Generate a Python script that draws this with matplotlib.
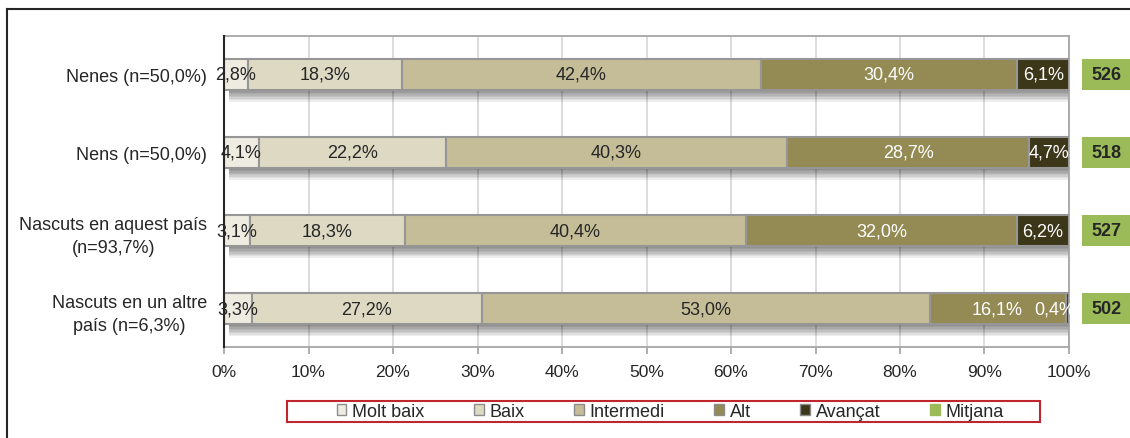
import matplotlib
matplotlib.use("Agg")
import matplotlib.pyplot as plt
from matplotlib.patches import Patch, Rectangle
from matplotlib.lines import Line2D
import numpy as np

plt.rcParams['font.family'] = ['Liberation Sans', 'DejaVu Sans']

categories = ["Nenes (n=50,0%)", "Nens (n=50,0%)",
              "Nascuts en aquest país\n(n=93,7%)",
              "Nascuts en un altre\npaís (n=6,3%)"]
series_names = ["Molt baix", "Baix", "Intermedi", "Alt", "Avançat"]
molt_baix = [2.8, 4.1, 3.1, 3.3]
baix = [18.3, 22.2, 18.3, 27.2]
intermedi = [42.4, 40.3, 40.4, 53.0]
alt = [30.4, 28.7, 32.0, 16.1]
avancat = [6.1, 4.7, 6.2, 0.4]
mitjana = [526, 518, 527, 502]
xticks = [0, 10, 20, 30, 40, 50, 60, 70, 80, 90, 100]

colors = ["#EEECE1", "#DDD9C3", "#C4BD97", "#948A54", "#3D3719"]
text_colors = ["#262626", "#262626", "#262626", "white", "white"]
green = "#9BBB59"
edge = "#969696"

fig = plt.figure(figsize=(11.3, 4.39), dpi=100)
ax = fig.add_axes([224/1130, 1-348/439, (1069-224)/1130, (348-37)/439])

y = np.arange(len(categories))
h = 0.40
data = [molt_baix, baix, intermedi, alt, avancat]

# soft drop shadow
for k, d in enumerate(np.linspace(0.02, 0.15, 8)):
    ax.barh(y + d, 100, left=0.6, height=h, color="black", alpha=0.065,
            linewidth=0, zorder=1)

left = np.zeros(len(categories))
for i, (vals, name) in enumerate(zip(data, series_names)):
    vals = np.array(vals)
    ax.barh(y, vals, left=left, height=h, color=colors[i], edgecolor=edge,
            linewidth=1.5, zorder=3, label=name)
    for j, v in enumerate(vals):
        dx = -9 if v < 1 else 0
        ax.annotate(f"{v:.1f}%".replace(".", ","), (left[j] + v/2, y[j]),
                    xytext=(dx, 0), textcoords="offset points",
                    ha="center", va="center", fontsize=13,
                    color=text_colors[i], zorder=5, annotation_clip=False)
    left += vals

# Mitjana boxes
ax.barh(y, 5.8, left=101.5, height=h, color=green, linewidth=0,
        clip_on=False, zorder=3)
for j, m in enumerate(mitjana):
    ax.text(101.5 + 2.9, y[j], str(m), ha="center", va="center",
            fontsize=13, fontweight="bold", color="#262626", clip_on=False)

ax.set_xlim(0, 100)
ax.set_ylim(3.49, -0.49)
ax.set_xticks(xticks)
ax.set_xticklabels([f"{t}%" for t in xticks], fontsize=12.5, color="#262626")
ax.set_yticks(y)
ax.set_yticklabels(categories, fontsize=13, color="#262626",
                   multialignment="center", linespacing=1.5)
ax.tick_params(axis="y", length=0, pad=12)
ax.tick_params(axis="x", length=5, color="#A0A0A0", width=1.2, pad=7)
ax.grid(axis="x", color="#D9D9D9", linewidth=1.3, zorder=0)
ax.set_axisbelow(True)
for s in ["top", "right", "bottom"]:
    ax.spines[s].set_color("#A6A6A6")
    ax.spines[s].set_linewidth(1.3)
ax.spines["left"].set_color("#262626")
ax.spines["left"].set_linewidth(1.5)
ax.spines["left"].set_zorder(6)

# outer frame (left and top)
fig.add_artist(Line2D([7/1130, 7/1130], [0, 1-10/439], transform=fig.transFigure,
                      color="#262626", linewidth=1.5))
fig.add_artist(Line2D([7/1130, 1], [1-10/439, 1-10/439], transform=fig.transFigure,
                      color="#262626", linewidth=1.5))

# legend frame
fig.add_artist(Rectangle((287/1130, 1-423/439), (1040-287)/1130, 21/439,
                         transform=fig.transFigure, facecolor="white",
                         edgecolor="#C0262E", linewidth=1.5, zorder=0))

handles = [Patch(facecolor=c, edgecolor="#8C8C8C", linewidth=1.0) for c in colors]
handles.append(Patch(facecolor=green, edgecolor=green, linewidth=1.0))
labels = series_names + ["Mitjana"]
leg = fig.legend(handles, labels, ncol=6, loc="center",
                 bbox_to_anchor=((338+1002)/2/1130, 1-412.5/439),
                 fontsize=13, frameon=False,
                 handlelength=0.55, handleheight=0.55, handletextpad=0.3,
                 columnspacing=2.75, borderpad=0.1, borderaxespad=0)
for t in leg.get_texts():
    t.set_color("#262626")

fig.savefig("out.png", dpi=100)
